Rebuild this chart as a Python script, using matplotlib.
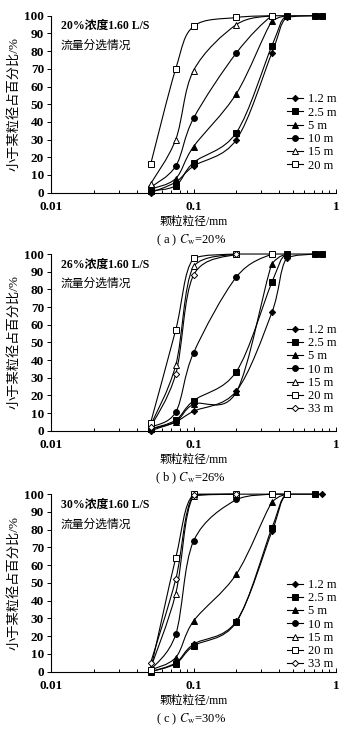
import numpy as np
import matplotlib
matplotlib.use("Agg")
import matplotlib.pyplot as plt
from matplotlib.path import Path
from matplotlib.patches import PathPatch
from matplotlib.lines import Line2D
from matplotlib.ticker import LogLocator, NullFormatter, FixedLocator, FixedFormatter

plt.rcParams['font.family'] = ['Liberation Serif', 'Noto Sans CJK SC']
plt.rcParams['mathtext.fontset'] = 'stix'

# sieve sizes (mm)
sizes = [0.05, 0.075, 0.1, 0.2, 0.355, 0.45, 0.71, 0.8]

# (a) Cw = 20%
a_12 = [0, 6, 15, 30, 79, 99, 100]
a_25 = [1, 4, 17, 34, 83, 100, 100, 100]
a_5 = [2, 8, 26, 56, 97, 100]
a_10 = [3, 15, 42, 79, 100, 100]
a_15 = [5, 30, 69, 95, 100]
a_20 = [16, 70, 94, 99, 100]

# (b) Cw = 26%
b_12 = [0, 5, 11, 22.5, 67, 97.5, 100]
b_25 = [1, 6, 17, 33.5, 84, 100, 100, 100]
b_5 = [1, 5, 15, 22, 94.5, 100]
b_10 = [2, 10.5, 44, 87, 100, 100]
b_15 = [3, 37, 93, 100]
b_20 = [4.5, 57, 97.5, 100, 100]
b_33 = [2, 32, 88, 100]

# (c) Cw = 30%
c_12 = [0, 5, 15.5, 28.5, 79, 100, 100, 100]
c_25 = [0, 4.5, 14.5, 28, 81, 100, 100]
c_5 = [1, 8, 28.5, 55, 95.5, 100]
c_10 = [1, 21, 73.5, 97, 100, 100]
c_15 = [2, 44, 99, 100]
c_20 = [1, 64, 100, 100, 100, 100]
c_33 = [5, 52, 99.5, 100]

labels = ['1.2 m', '2.5 m', '5 m', '10 m', '15 m', '20 m', '33 m']
markers = ['D', 's', '^', 'o', '^', 's', 'D']
filled = [True, True, True, True, False, False, False]
msizes = [3.2, 3.8, 4.2, 4.2, 4.2, 3.8, 3.2]

panels = [
    ([a_12, a_25, a_5, a_10, a_15, a_20], '20%', 'a', 0.7364, 0.2421, 0.34),
    ([b_12, b_25, b_5, b_10, b_15, b_20, b_33], '26%', 'b', 0.4108, 0.2417, 0.345),
    ([c_12, c_25, c_5, c_10, c_15, c_20, c_33], '30%', 'c', 0.0811, 0.2429, 0.265),
]


def smooth_line(ax, x, y):
    # smoothed curve through the points, built in (log x, y) space
    P = np.column_stack([np.log10(x), np.asarray(y, float)])
    Pe = np.vstack([P[0], P, P[-1]])
    verts = [P[0]]
    codes = [Path.MOVETO]
    for i in range(len(P) - 1):
        p0, p1, p2, p3 = Pe[i], Pe[i + 1], Pe[i + 2], Pe[i + 3]
        verts += [p1 + (p2 - p0) / 6, p2 - (p3 - p1) / 6, p2]
        codes += [Path.CURVE4] * 3
    verts = np.array(verts)
    verts[:, 1] = np.clip(verts[:, 1], 0, 100)
    verts[:, 0] = 10 ** verts[:, 0]
    ax.add_patch(PathPatch(Path(verts, codes), fill=False, ec='black',
                           lw=0.8, clip_on=False))


fig = plt.figure(figsize=(3.51, 7.31), dpi=100)

for series, cw, tag, bottom, height, leg_y in panels:
    ax = fig.add_axes([0.1453, bottom, 0.812, height])
    ax.set_xscale('log')
    ax.set_xlim(0.01, 1)
    ax.set_ylim(0, 100)
    handles = []
    for i, yv in enumerate(series):
        xv = sizes[:len(yv)]
        smooth_line(ax, xv, yv)
        fc = 'black' if filled[i] else 'white'
        ax.plot(xv, yv, linestyle='none', marker=markers[i], ms=msizes[i],
                mfc=fc, mec='black', mew=0.7, clip_on=False, zorder=3)
        handles.append(Line2D([], [], color='black', lw=0.8, marker=markers[i],
                              ms=msizes[i], mfc=fc, mec='black', mew=0.7))
    ax.legend(handles, labels[:len(series)], loc='center right',
              bbox_to_anchor=(1.0, leg_y), frameon=False, fontsize=9,
              handlelength=1.3, handletextpad=0.35, labelspacing=0.1,
              borderpad=0, borderaxespad=0)

    for s in ['top', 'right']:
        ax.spines[s].set_visible(False)
    ax.spines['left'].set_linewidth(0.8)
    ax.spines['bottom'].set_linewidth(0.8)

    ax.xaxis.set_major_locator(FixedLocator([0.01, 0.1, 1]))
    ax.xaxis.set_major_formatter(FixedFormatter(['0.01', '0.1', '1']))
    ax.xaxis.set_minor_locator(LogLocator(base=10, subs=np.arange(2, 10)))
    ax.xaxis.set_minor_formatter(NullFormatter())
    ax.set_yticks(np.arange(0, 101, 10))
    ax.tick_params(axis='x', which='both', direction='in', length=3, width=0.7,
                   labelsize=9.5, pad=6)
    ax.tick_params(axis='x', which='minor', length=2)
    ax.tick_params(axis='y', direction='out', length=3, width=0.7,
                   labelsize=9.5, pad=2)
    for lab in ax.get_xticklabels() + ax.get_yticklabels():
        lab.set_fontweight('bold')

    ax.set_ylabel('小于某粒径占百分比/%', fontsize=9.5, labelpad=3)
    ax.set_xlabel('颗粒粒径/mm', fontsize=8.5, labelpad=2)
    ax.text(0.035, 0.94, cw + '浓度1.60 L/S', transform=ax.transAxes,
            fontsize=8.5, va='center', ha='left', fontweight='bold')
    ax.text(0.035, 0.83, '流量分选情况', transform=ax.transAxes,
            fontsize=8.5, va='center', ha='left')
    ax.text(0.49, -0.27, '( ' + tag + ' ) $C_\\mathrm{w}$=' + cw,
            transform=ax.transAxes, fontsize=9, ha='center', va='center')

fig.savefig('out.png', dpi=100)
